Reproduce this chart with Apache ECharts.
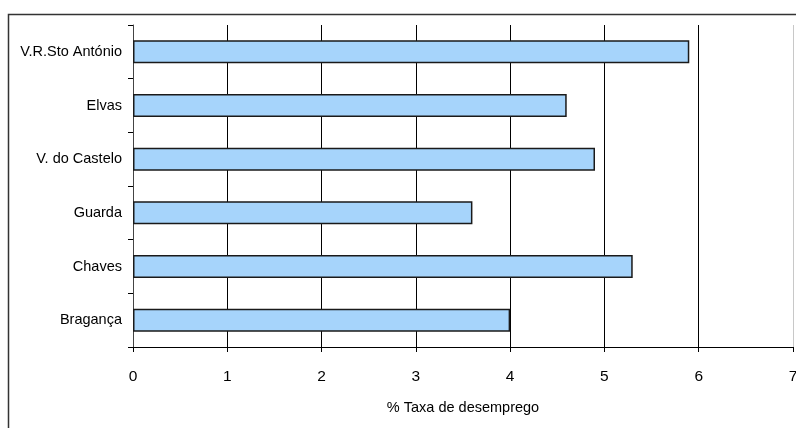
<!DOCTYPE html>
<html>
<head>
<meta charset="utf-8">
<script src="https://cdn.jsdelivr.net/npm/echarts@6/dist/echarts.min.js"></script>
<style>
  html, body { margin: 0; padding: 0; background: #fff; }
  #chart { width: 796px; height: 428px; }
</style>
</head>
<body>
<div id="chart"></div>
<script>
// Unemployment rate by town (top to bottom)
const towns = ['V.R.Sto António', 'Elvas', 'V. do Castelo', 'Guarda', 'Chaves', 'Bragança'];
const rates = [5.9, 4.6, 4.9, 3.6, 5.3, 4.0];
const xTicks = [0, 1, 2, 3, 4, 5, 6, 7];
const xTitle = '% Taxa de desemprego';

const chart = echarts.init(document.getElementById('chart'));
const font = '"Liberation Sans", Arial, sans-serif';

chart.setOption({
  animation: false,
  backgroundColor: '#fff',
  graphic: [{
    type: 'rect',
    shape: { x: 8.5, y: 14.5, width: 800, height: 430 },
    style: { fill: 'none', stroke: '#333', lineWidth: 1.5 },
    silent: true
  }],
  grid: { left: 133, right: 3, top: 25, bottom: 81, containLabel: false, outerBoundsMode: 'none' },
  xAxis: {
    type: 'value',
    min: xTicks[0],
    max: xTicks[xTicks.length - 1],
    interval: 1,
    name: xTitle,
    nameLocation: 'middle',
    nameGap: 53,
    nameTextStyle: { color: '#000', fontSize: 14.5, fontFamily: font },
    axisLine: { show: true, lineStyle: { color: '#000', width: 1 } },
    axisTick: { show: true, length: 5, inside: false, lineStyle: { color: '#000' } },
    axisLabel: { color: '#000', fontSize: 15.5, fontFamily: font, margin: 22, hideOverlap: false },
    splitLine: {
      show: true,
      showMinLine: false,
      // lines at 1..6 dark, right edge line at 7 light grey
      lineStyle: { color: ['#000', '#000', '#000', '#000', '#000', '#000', '#c8c8c8'], width: 1 }
    }
  },
  yAxis: {
    type: 'category',
    data: towns,
    inverse: true,
    boundaryGap: true,
    axisLine: { show: true, lineStyle: { color: '#444', width: 1 } },
    axisTick: { show: true, length: 5, alignWithLabel: false, lineStyle: { color: '#000' } },
    axisLabel: { color: '#000', fontSize: 14.5, fontFamily: font, margin: 11 },
    splitLine: { show: false }
  },
  series: [{
    type: 'bar',
    data: rates,
    barWidth: '43%',
    itemStyle: { color: '#a6d4fb', borderColor: '#1a1a1a', borderWidth: 1.5 },
    silent: true
  }]
});
</script>
</body>
</html>
